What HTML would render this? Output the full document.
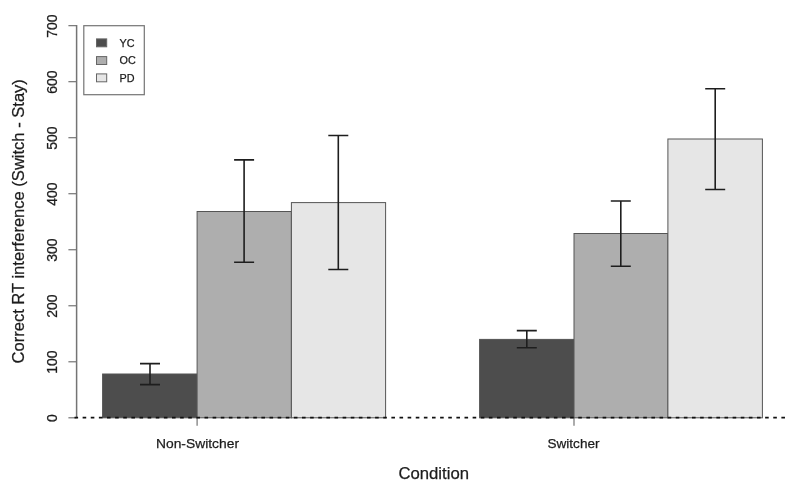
<!DOCTYPE html>
<html><head><meta charset="utf-8"><title>Chart</title>
<style>
html,body{margin:0;padding:0;background:#fff;}
body{width:800px;height:496px;overflow:hidden;}
svg{display:block;font-family:"Liberation Sans",Arial,sans-serif;fill:#1c1c1c;}
text{stroke:#1c1c1c;stroke-width:0.25px;}
</style></head><body>
<svg width="800" height="496" viewBox="0 0 800 496">
<rect x="0" y="0" width="800" height="496" fill="#ffffff"/>
<rect x="102.60" y="374.00" width="94.50" height="43.80" fill="#4d4d4d" stroke="#555" stroke-width="1"/>
<rect x="197.10" y="211.50" width="94.30" height="206.30" fill="#aeaeae" stroke="#555" stroke-width="1"/>
<rect x="291.40" y="202.60" width="94.20" height="215.20" fill="#e6e6e6" stroke="#555" stroke-width="1"/>
<rect x="479.60" y="339.40" width="94.40" height="78.40" fill="#4d4d4d" stroke="#555" stroke-width="1"/>
<rect x="574.00" y="233.50" width="93.90" height="184.30" fill="#aeaeae" stroke="#555" stroke-width="1"/>
<rect x="667.90" y="139.00" width="94.50" height="278.80" fill="#e6e6e6" stroke="#555" stroke-width="1"/>
<g stroke="#747474" stroke-width="1.2" fill="none">
<line x1="76.6" y1="25.06" x2="76.6" y2="417.80" stroke-width="1.5"/>
<line x1="68.40" y1="417.80" x2="76.6" y2="417.80"/>
<line x1="68.40" y1="361.78" x2="76.6" y2="361.78"/>
<line x1="68.40" y1="305.76" x2="76.6" y2="305.76"/>
<line x1="68.40" y1="249.74" x2="76.6" y2="249.74"/>
<line x1="68.40" y1="193.72" x2="76.6" y2="193.72"/>
<line x1="68.40" y1="137.70" x2="76.6" y2="137.70"/>
<line x1="68.40" y1="81.68" x2="76.6" y2="81.68"/>
<line x1="68.40" y1="25.66" x2="76.6" y2="25.66"/>
<line x1="197.1" y1="417.8" x2="197.1" y2="425.8"/>
<line x1="574.0" y1="417.8" x2="574.0" y2="425.8"/>
<rect x="83.8" y="25.7" width="60.5" height="69" fill="#fff"/>
</g>
<rect x="96.5" y="38.90" width="10.2" height="7.9" fill="#4d4d4d" stroke="#666" stroke-width="1"/>
<text x="119.6" y="46.70" font-size="10.8">YC</text>
<rect x="96.5" y="56.60" width="10.2" height="7.9" fill="#aeaeae" stroke="#666" stroke-width="1"/>
<text x="119.6" y="64.35" font-size="10.8">OC</text>
<rect x="96.5" y="73.90" width="10.2" height="7.9" fill="#e6e6e6" stroke="#666" stroke-width="1"/>
<text x="119.6" y="82.10" font-size="10.8">PD</text>
<line x1="74.5" y1="417.6" x2="786" y2="417.6" stroke="#111" stroke-width="1.8" stroke-dasharray="3.6 4.525"/>
<g stroke="#1e1e1e" stroke-width="1.6" fill="none">
<path d="M140.00 363.60H160.00M150.00 363.60V384.60M140.00 384.60H160.00"/>
<path d="M234.10 159.90H254.10M244.10 159.90V262.30M234.10 262.30H254.10"/>
<path d="M328.30 135.50H348.30M338.30 135.50V269.50M328.30 269.50H348.30"/>
<path d="M516.80 330.60H536.80M526.80 330.60V347.70M516.80 347.70H536.80"/>
<path d="M610.80 201.00H630.80M620.80 201.00V266.30M610.80 266.30H630.80"/>
<path d="M705.20 88.70H725.20M715.20 88.70V189.50M705.20 189.50H725.20"/>
</g>
<text transform="translate(57.3,418.20) rotate(-90)" text-anchor="middle" font-size="14">0</text>
<text transform="translate(57.3,362.18) rotate(-90)" text-anchor="middle" font-size="14">100</text>
<text transform="translate(57.3,306.16) rotate(-90)" text-anchor="middle" font-size="14">200</text>
<text transform="translate(57.3,250.14) rotate(-90)" text-anchor="middle" font-size="14">300</text>
<text transform="translate(57.3,194.12) rotate(-90)" text-anchor="middle" font-size="14">400</text>
<text transform="translate(57.3,138.10) rotate(-90)" text-anchor="middle" font-size="14">500</text>
<text transform="translate(57.3,82.08) rotate(-90)" text-anchor="middle" font-size="14">600</text>
<text transform="translate(57.3,26.06) rotate(-90)" text-anchor="middle" font-size="14">700</text>
<text transform="translate(24.2,221.3) rotate(-90)" text-anchor="middle" font-size="16.4" textLength="284.3" lengthAdjust="spacingAndGlyphs">Correct RT interference (Switch - Stay)</text>
<text x="197.5" y="447.5" text-anchor="middle" font-size="13.6" textLength="83" lengthAdjust="spacingAndGlyphs">Non-Switcher</text>
<text x="573.5" y="447.5" text-anchor="middle" font-size="13.6" textLength="52" lengthAdjust="spacingAndGlyphs">Switcher</text>
<text x="433.7" y="479.3" text-anchor="middle" font-size="17.2" textLength="70.6" lengthAdjust="spacingAndGlyphs">Condition</text>
</svg>
</body></html>
